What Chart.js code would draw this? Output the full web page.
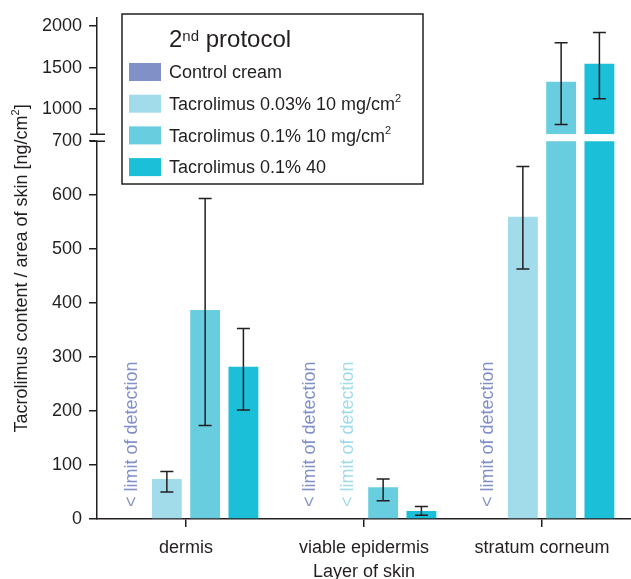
<!DOCTYPE html>
<html>
<head>
<meta charset="utf-8">
<script src="https://cdn.jsdelivr.net/npm/chart.js@4"></script>
<style>
  html, body { margin:0; padding:0; background:#fff; overflow:hidden; }
  #wrap { position:relative; width:631px; height:579px; }
</style>
</head>
<body>
<div id="wrap"><canvas id="c"></canvas></div>
<script>
// data
const categories = ['dermis', 'viable epidermis', 'stratum corneum'];
const legendTitle = '2^nd protocol';
const seriesNames = ['Control cream', 'Tacrolimus 0.03% 10 mg/cm^2', 'Tacrolimus 0.1% 10 mg/cm^2', 'Tacrolimus 0.1% 40'];
const seriesColors = ['#8290c8', '#a2dcea', '#69cde0', '#1cbfd8'];
// null = below limit of detection
const controlCream = [null, null, null];
const tacro003 = [74, null, 560];
const tacro01_10 = [387, 59, 1332];
const tacro01_40 = [282, 15, 1548];
// error bar ends [low, high]
const controlErr = [null, null, null];
const tacro003Err = [[50, 88], null, [463, 653]];
const tacro01_10Err = [[173, 594], [34, 74], [817, 1800]];
const tacro01_40Err = [[202, 353], [7, 23], [1125, 1923]];
const belowLod = [[true, true, true], [false, true, false], [false, false, false], [false, false, false]];
const lowerTicks = [0, 100, 200, 300, 400, 500, 600, 700];
const upperTicks = [1000, 1500, 2000];
const axisBreak = 700;
const yTitle = 'Tacrolimus content / area of skin [ng/cm^2]';
const xTitle = 'Layer of skin';

const series = [controlCream, tacro003, tacro01_10, tacro01_40];
const errs = [controlErr, tacro003Err, tacro01_10Err, tacro01_40Err];
const ink = '#231f20';
const FONT = '"Liberation Sans", Arial, Helvetica, sans-serif';

function splitSup(s) {
  const out = [];
  s.split(/\^(\w+)/).forEach((p, i) => { if (p) out.push([p, i % 2 === 1]); });
  return out;
}
function richWidth(ctx, parts, size, supSize) {
  let w = 0;
  parts.forEach(([t, sup]) => { ctx.font = (sup ? supSize : size) + 'px ' + FONT; w += ctx.measureText(t).width; });
  return w;
}
function richText(ctx, parts, x, y, size, supSize, raise) {
  let cx = x;
  parts.forEach(([t, sup]) => {
    ctx.font = (sup ? supSize : size) + 'px ' + FONT;
    ctx.fillText(t, cx, sup ? y - raise : y);
    cx += ctx.measureText(t).width;
  });
}

function valuePixel(chart, v) {
  return v <= axisBreak ? chart.scales.y.getPixelForValue(v) : chart.scales.yUp.getPixelForValue(v);
}

const datasets = [];
series.forEach((vals, i) => {
  datasets.push({
    label: seriesNames[i], data: vals.map(v => v == null ? null : Math.min(v, axisBreak)),
    backgroundColor: seriesColors[i], yAxisID: 'y', stack: 's' + i
  });
});
series.forEach((vals, i) => {
  datasets.push({
    label: seriesNames[i] + ' (upper)', data: vals.map(v => v != null && v > axisBreak ? [axisBreak, v] : null),
    backgroundColor: seriesColors[i], yAxisID: 'yUp', stack: 's' + i
  });
});

const extras = {
  id: 'extras',
  afterDatasetsDraw(chart) {
    const ctx = chart.ctx;
    ctx.save();
    // error bars
    ctx.strokeStyle = ink; ctx.lineWidth = 1.5;
    errs.forEach((e, i) => {
      const meta = chart.getDatasetMeta(i);
      e.forEach((lh, j) => {
        if (!lh) return;
        const x = meta.data[j].x;
        const y0 = valuePixel(chart, lh[0]), y1 = valuePixel(chart, lh[1]);
        ctx.beginPath();
        ctx.moveTo(x, y0); ctx.lineTo(x, y1);
        ctx.moveTo(x - 6.5, y0); ctx.lineTo(x + 6.5, y0);
        ctx.moveTo(x - 6.5, y1); ctx.lineTo(x + 6.5, y1);
        ctx.stroke();
      });
    });
    // below limit of detection labels
    const base = chart.scales.y.getPixelForValue(0);
    belowLod.forEach((flags, i) => {
      const meta = chart.getDatasetMeta(i);
      flags.forEach((f, j) => {
        if (!f) return;
        ctx.save();
        ctx.translate(meta.data[j].x + 8.5, base - 12);
        ctx.rotate(-Math.PI / 2);
        ctx.font = '18px ' + FONT;
        ctx.fillStyle = seriesColors[i];
        ctx.textAlign = 'left'; ctx.textBaseline = 'alphabetic';
        ctx.fillText('< limit of detection', 0, 0);
        ctx.restore();
      });
    });
    ctx.restore();
  },
  afterDraw(chart) {
    const ctx = chart.ctx;
    const area = chart.chartArea;
    ctx.save();
    // axis break marks
    const ax = area.left;
    const pUp = chart.scales.yUp.getPixelForValue(axisBreak);
    const pLow = chart.scales.y.getPixelForValue(axisBreak);
    ctx.fillStyle = '#fff';
    ctx.fillRect(ax - 2, pUp + 0.8, 4, pLow - pUp - 1.6);
    ctx.strokeStyle = ink; ctx.lineWidth = 1.5;
    ctx.beginPath();
    ctx.moveTo(ax - 7, pUp); ctx.lineTo(ax + 8, pUp);
    ctx.moveTo(ax - 7, pLow); ctx.lineTo(ax + 8, pLow);
    ctx.stroke();

    // y axis title
    ctx.fillStyle = ink; ctx.textBaseline = 'alphabetic'; ctx.textAlign = 'left';
    const tParts = splitSup(yTitle);
    const tw = richWidth(ctx, tParts, 18, 11);
    ctx.save();
    ctx.translate(27, (area.top + area.bottom) / 2 + tw / 2);
    ctx.rotate(-Math.PI / 2);
    richText(ctx, tParts, 0, 0, 18, 11, 8);
    ctx.restore();

    // legend box
    const x0 = 122, y0 = 14, w = 301, h = 170;
    ctx.fillStyle = '#fff'; ctx.fillRect(x0, y0, w, h);
    ctx.strokeStyle = ink; ctx.lineWidth = 1.5; ctx.strokeRect(x0, y0, w, h);
    ctx.fillStyle = ink;
    richText(ctx, splitSup(legendTitle), 169, 47, 24, 15, 6);
    seriesNames.forEach((name, i) => {
      const cy = 72 + i * 31.7;
      ctx.fillStyle = seriesColors[i];
      ctx.fillRect(129, cy - 9, 32, 18);
      ctx.fillStyle = ink;
      richText(ctx, splitSup(name), 169, cy + 6.3, 18, 11, 8);
    });
    ctx.restore();
  }
};

const yCommon = {
  position: 'left', stack: 'ybreak',
  border: { color: ink, width: 1.5 },
  grid: { drawOnChartArea: false, color: ink, lineWidth: 1.5, tickLength: 8 },
  ticks: { color: ink, font: { family: FONT, size: 18 }, padding: 7, callback: v => String(v) },
  afterFit: s => { s.width = 97; }
};

new Chart(document.getElementById('c'), {
  type: 'bar',
  data: { labels: categories, datasets: datasets },
  options: {
    responsive: true, maintainAspectRatio: false, animation: false,
    layout: { padding: { left: 0, right: 0, top: 15, bottom: 0 } },
    barPercentage: 0.78, categoryPercentage: 0.86,
    plugins: { legend: { display: false }, tooltip: { enabled: false } },
    scales: {
      x: {
        border: { color: ink, width: 1.5 },
        grid: { offset: false, drawOnChartArea: false, color: ink, lineWidth: 1.5, tickLength: 8 },
        ticks: { color: ink, font: { family: FONT, size: 18 }, padding: 10 },
        title: { display: true, text: xTitle, color: ink, font: { family: FONT, size: 18 }, padding: { top: 0, bottom: -4 } },
        afterFit: s => { s.height = 60; }
      },
      y: Object.assign({}, yCommon, {
        min: 0, max: 713, stackWeight: 387,
        afterBuildTicks: s => { s.ticks = lowerTicks.map(v => ({ value: v })); }
      }),
      yUp: Object.assign({}, yCommon, {
        min: axisBreak, max: 2100, stackWeight: 117,
        afterBuildTicks: s => { s.ticks = upperTicks.map(v => ({ value: v })); }
      })
    }
  },
  plugins: [extras]
});
</script>
</body>
</html>
